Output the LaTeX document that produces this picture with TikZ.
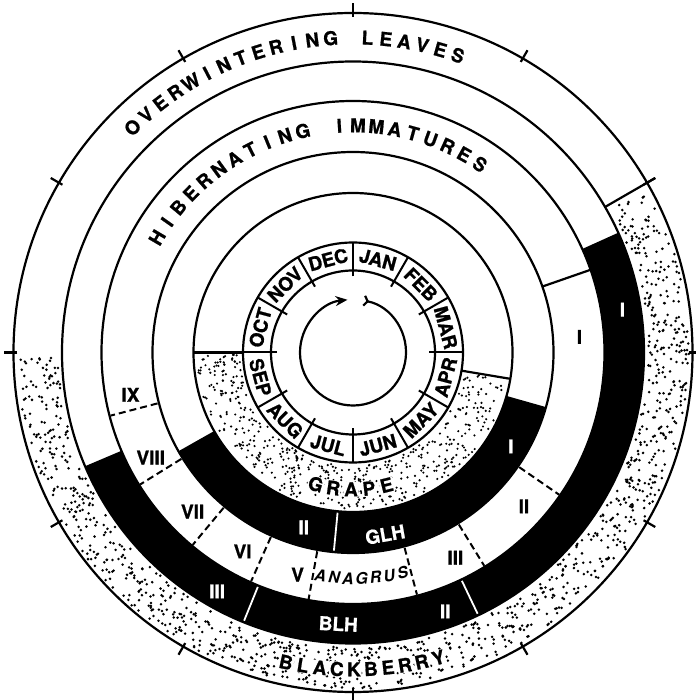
\documentclass[tikz,border=0pt]{standalone}
\usepackage{fontspec}
\setmainfont{TeX Gyre Heros}[BoldFeatures={FakeBold=0.9}]
\usetikzlibrary{arrows.meta}
\newcommand{\annsec}[5][black]{\fill[#1] (#4:#2pt) arc[start angle=#4,end angle=#5,radius=#2pt] -- (#5:#3pt) arc[start angle=#5,end angle=#4,radius=#3pt] -- cycle;}
\newcommand{\lfont}{\fontsize{19}{20}\selectfont\bfseries}
\newcommand{\mfont}{\fontsize{19}{20}\selectfont\bfseries}
\newcommand{\afont}{\fontsize{16}{17}\selectfont\bfseries\itshape}
\begin{document}
\begin{tikzpicture}[x=1pt,y=1pt,
  ring/.style={line width=2.2pt},
  dashdiv/.style={line width=2pt, dash pattern=on 7pt off 4pt},
  whdiv/.style={white, line width=1.8pt},
  lt/.style={font=\lfont, inner sep=0pt, text height=13.6pt, text depth=0pt},
  slt/.style={lt, fill=white, inner sep=0.8pt},
  mt/.style={font=\mfont, inner sep=0pt, text height=13.6pt, text depth=0pt},
  anlt/.style={font=\afont, inner sep=0pt, text height=11.5pt, text depth=0pt},
  num/.style={font=\lfont, inner sep=0pt, text height=13.6pt, text depth=0pt},
  wnum/.style={num, text=white}]
\useasboundingbox[fill=white] (-353,-347.5) rectangle (342,352.5);

% black bands
\annsec{251.5}{291}{24.3}{-157}
\annsec{159.5}{200.5}{-15.8}{-150.5}

% stipple: blackberry
\pgfmathsetseed{2718}
\foreach \k in {1,...,1100}{%
  \pgfmathsetmacro\aa{-179.2+208.4*rnd}%
  \pgfmathsetmacro\rr{294.8+41.5*rnd}%
  \fill (\aa:\rr pt) circle[radius=1.4pt];}
% stipple: grape
\foreach \k in {1,...,500}{%
  \pgfmathsetmacro\aa{-179.2+169*rnd}%
  \pgfmathsetmacro\rr{113.2+43*rnd}%
  \fill (\aa:\rr pt) circle[radius=1.2pt];}

% circles
\foreach \r in {339.5,291,251.5,200.5,159.5,110,82}
  \draw[ring] (0,0) circle[radius=\r pt];

% outer ticks
\foreach \a in {0,30,...,330}
  \draw[ring] (\a:335.5pt) -- (\a:349pt);
\draw[ring] (30:291pt) -- (30:349pt);

% grape boundaries
\draw[ring] (180:110pt) -- (180:159.5pt);
\draw[ring] (-9.5:110pt) -- (-9.5:159.5pt);

% stage dividers
\draw[ring] (19.2:200.5pt) -- (19.2:251.5pt);
\foreach \a in {-34.6,-58.4,-75.2,259.8,246,230.2,211.8,194.6}
  \draw[dashdiv] (\a:202pt) -- (\a:250.5pt);
\foreach \a in {-64.5,247.9}
  \draw[whdiv] (\a:253pt) -- (\a:289.5pt);
\draw[whdiv] (264.5:161pt) -- (264.5:199pt);

% month dividers
\foreach \a in {0,30,...,330}
  \draw[line width=2pt] (\a:76pt) -- (\a:110pt);

% cycle arrow
\draw[line width=2.2pt, {Straight Barb[reversed,length=3.5pt,width=10pt]}-{Stealth[length=12pt,width=10pt]}]
  (79:53pt) arc[start angle=79, end angle=-264, radius=53pt];

% months
\foreach \mo [count=\i from 0] in {JAN,FEB,MAR,APR,MAY,JUN,JUL,AUG,SEP,OCT,NOV,DEC}{%
  \pgfmathsetmacro\ang{mod(435-30*\i,360)}%
  \pgfmathsetmacro\rot{\ang>180 ? \ang+90 : \ang-90}%
  \node[mt, rotate=\rot] (m\i) at (\ang:96pt) {\mo};}

% curved labels
\foreach \c [count=\i from 0] in {O,V,E,R,W,I,N,T,E,R,I,N,G,{},L,E,A,V,E,S}{%
  \pgfmathsetmacro\ang{134.4-3.36*\i}%
  \node[lt, rotate=\ang-90] (ow\i) at (\ang:315pt) {\c};}
\foreach \c [count=\i from 0] in {H,I,B,E,R,N,A,T,I,N,G,{},I,M,M,A,T,U,R,E,S}{%
  \pgfmathsetmacro\ang{149.6-4.68*\i}%
  \node[lt, rotate=\ang-90] (hi\i) at (\ang:227pt) {\c};}
\foreach \c [count=\i from 0] in {B,L,A,C,K,B,E,R,R,Y}{%
  \pgfmathsetmacro\ang{257.8+3.09*\i}%
  \node[slt, rotate=\ang+90] (bb\i) at (\ang:317pt) {\c};}
\foreach \c [count=\i from 0] in {G,R,A,P,E}{%
  \pgfmathsetmacro\ang{254.2+7.5*\i}%
  \node[slt, rotate=\ang+90] (gr\i) at (\ang:137pt) {\c};}
\foreach \c [count=\i from 0] in {A,N,A,G,R,U,S}{%
  \pgfmathsetmacro\ang{261.7+3.5*\i}%
  \node[anlt, rotate=\ang+90] (an\i) at (\ang:226pt) {\c};}

% labels in black bands
\node[wnum] (bI) at (9:272.8pt) {I};
\node[wnum] (bII) at (-70.4:275pt) {II};
\node[wnum] (bIII) at (240.4:275pt) {III};
\node[wnum, rotate=-3] (blh) at (266.9:272pt) {BLH};
\node[wnum] (gI) at (-30.8:183.8pt) {I};
\node[wnum, rotate=10] (glh) at (280:185pt) {GLH};
\node[wnum] (gII) at (254.3:181.8pt) {II};

% anagrus stages
\node[num] (s1) at (3.9:227pt) {I};
\node[num] (s2) at (-42:230pt) {II};
\node[num] (s3) at (-63.5:229.5pt) {III};
\node[num] (s5) at (256:229pt) {V};
\node[num] (s6) at (241:227.6pt) {VI};
\node[num] (s7) at (224.8:226pt) {VII};
\node[num] (s8) at (207.5:228pt) {VIII};
\node[num] (s9) at (190.8:226.5pt) {IX};
\end{tikzpicture}
\end{document}
